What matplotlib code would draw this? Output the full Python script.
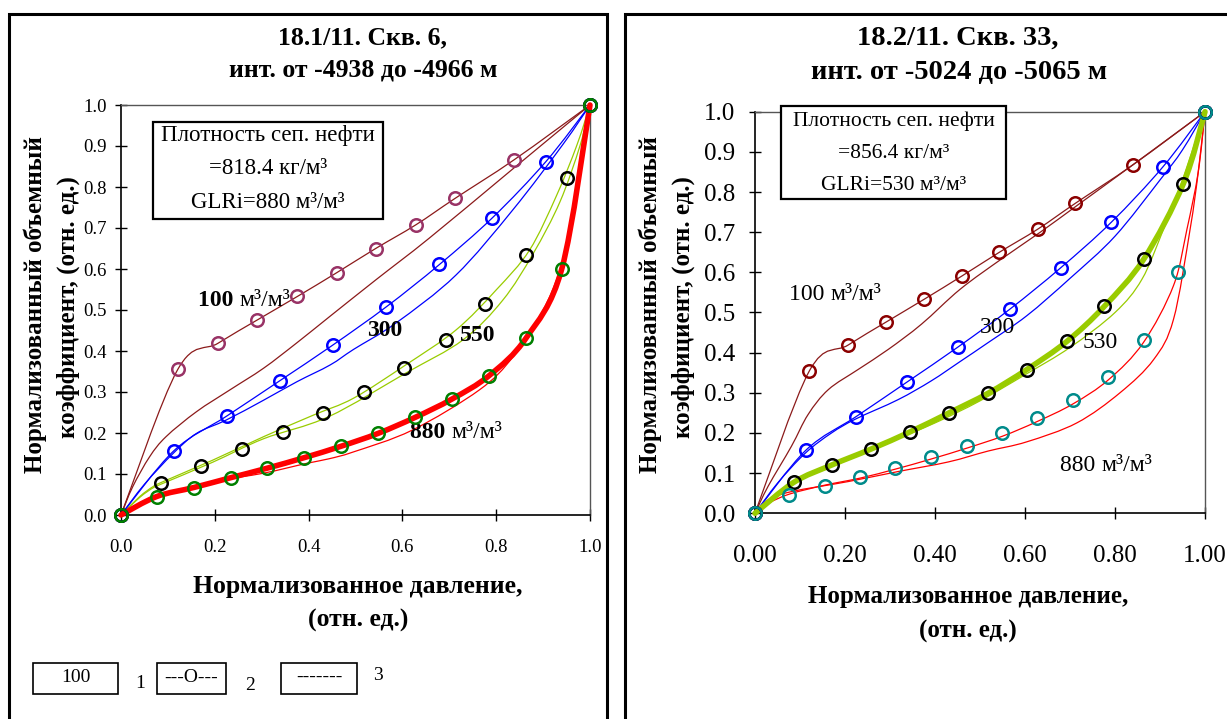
import numpy as np
import matplotlib
matplotlib.use('Agg')
import matplotlib.pyplot as plt
from matplotlib.patches import Rectangle, PathPatch
from matplotlib.path import Path

W, H = 1227, 719
DPI = 100
matplotlib.rcParams.update({
    'font.family': ['Liberation Serif', 'DejaVu Serif'],
    'figure.facecolor': 'white',
    'axes.facecolor': 'white',
})

# experimental points (same normalised grid in both wells)
x_exp_100 = [0, 0.121, 0.207, 0.291, 0.376, 0.46, 0.543, 0.629, 0.712, 0.839, 1.0]
y_exp_100 = [0, 0.355, 0.419, 0.476, 0.533, 0.591, 0.650, 0.708, 0.772, 0.867, 1.0]
x_exp_300 = [0, 0.113, 0.225, 0.338, 0.451, 0.566, 0.679, 0.792, 0.906, 1.0]
y_exp_300 = [0, 0.157, 0.241, 0.327, 0.414, 0.508, 0.611, 0.725, 0.862, 1.0]
x_exp_550 = [0, 0.086, 0.170, 0.258, 0.345, 0.431, 0.518, 0.604, 0.693, 0.776, 0.864, 0.952, 1.0]
y_exp_550 = [0, 0.077, 0.120, 0.160, 0.203, 0.250, 0.299, 0.358, 0.428, 0.515, 0.633, 0.821, 1.0]
x_exp_880 = [0, 0.076, 0.155, 0.234, 0.311, 0.391, 0.470, 0.548, 0.627, 0.706, 0.785, 0.864, 0.940, 1.0]
y_exp_880 = [0, 0.045, 0.067, 0.091, 0.114, 0.140, 0.168, 0.199, 0.238, 0.283, 0.340, 0.432, 0.601, 1.0]

# well 6: calculated curves
w6_x_100 = [0, 0.025, 0.061, 0.096, 0.161, 0.232, 0.304, 0.375, 0.446, 0.545, 0.657, 0.829, 1.0]
w6_y_100 = [0, 0.069, 0.142, 0.191, 0.252, 0.305, 0.358, 0.420, 0.485, 0.575, 0.675, 0.838, 1.0]
w6_x_300 = [0, 0.05, 0.111, 0.161, 0.225, 0.304, 0.375, 0.446, 0.496, 0.586, 0.714, 0.836, 0.943, 1.0]
w6_y_300 = [0, 0.075, 0.150, 0.199, 0.232, 0.280, 0.325, 0.366, 0.404, 0.468, 0.585, 0.745, 0.905, 1.0]
w6_x_550a = [0, 0.04, 0.068, 0.089, 0.196, 0.304, 0.411, 0.496, 0.607, 0.714, 0.8, 0.871, 0.929, 0.972, 1.0]
w6_y_550a = [0, 0.045, 0.069, 0.081, 0.134, 0.191, 0.244, 0.285, 0.366, 0.451, 0.549, 0.646, 0.780, 0.902, 1.0]
w6_x_550b = [0, 0.04, 0.068, 0.089, 0.196, 0.304, 0.443, 0.607, 0.729, 0.814, 0.879, 0.936, 0.979, 1.0]
w6_y_550b = [0, 0.043, 0.066, 0.077, 0.129, 0.186, 0.240, 0.346, 0.427, 0.524, 0.638, 0.764, 0.902, 1.0]
w6_x_880 = [0, 0.076, 0.196, 0.304, 0.396, 0.443, 0.496, 0.621, 0.764, 0.836, 0.9, 0.936, 0.957, 0.98, 1.0]
w6_y_880 = [0, 0.043, 0.081, 0.102, 0.126, 0.137, 0.154, 0.207, 0.305, 0.386, 0.500, 0.598, 0.695, 0.85, 1.0]

# well 33: calculated curves
w33_x_100 = [0, 0.029, 0.081, 0.118, 0.163, 0.229, 0.296, 0.370, 0.456, 0.55, 0.634, 0.72, 0.84, 1.0]
w33_y_100 = [0, 0.067, 0.167, 0.246, 0.308, 0.358, 0.408, 0.471, 0.558, 0.635, 0.700, 0.770, 0.868, 1.0]
w33_x_300 = [0, 0.05, 0.112, 0.170, 0.224, 0.318, 0.392, 0.456, 0.518, 0.604, 0.70, 0.80, 0.90, 0.95, 1.0]
w33_y_300 = [0, 0.075, 0.150, 0.200, 0.235, 0.283, 0.330, 0.378, 0.425, 0.492, 0.585, 0.690, 0.830, 0.905, 1.0]
w33_x_530 = [0, 0.05, 0.1, 0.2, 0.3, 0.4, 0.5, 0.6, 0.7, 0.8, 0.86, 0.908, 0.95, 1.0]
w33_y_530 = [0, 0.05, 0.085, 0.13, 0.178, 0.225, 0.28, 0.345, 0.413, 0.5, 0.583, 0.708, 0.83, 1.0]
w33_x_880a = [0, 0.03, 0.077, 0.155, 0.235, 0.312, 0.391, 0.47, 0.55, 0.626, 0.706, 0.786, 0.863, 0.93, 0.96, 0.985, 1.0]
w33_y_880a = [0, 0.025, 0.048, 0.07, 0.088, 0.11, 0.135, 0.162, 0.192, 0.228, 0.272, 0.333, 0.425, 0.567, 0.708, 0.85, 1.0]
w33_x_880b = [0, 0.029, 0.081, 0.207, 0.318, 0.43, 0.518, 0.604, 0.715, 0.811, 0.886, 0.930, 0.967, 0.985, 1.0]
w33_y_880b = [0, 0.033, 0.054, 0.079, 0.104, 0.128, 0.155, 0.178, 0.225, 0.300, 0.383, 0.483, 0.708, 0.85, 1.0]

MAROON = '#8B1A1A'
BLUE = '#0000FF'
YGREEN = '#99CC00'
RED = '#FF0000'

fig = plt.figure(figsize=(W / DPI, H / DPI), dpi=DPI)


def fx(x):
    return x / W


def fy(y):
    return 1 - y / H


# panel frames
for x0, x1 in [(9, 607), (625, 1240)]:
    fig.patches.append(Rectangle((fx(x0), fy(730)), fx(x1 - x0), (730 - 14) / H,
                                 transform=fig.transFigure, fill=False,
                                 edgecolor='black', linewidth=2.2))


def setup_axes(ax, xfmt, fs, xpad, ypad):
    ax.set_xlim(0, 1)
    ax.set_ylim(0, 1)
    ax.set_xticks(np.arange(0, 1.01, 0.2))
    ax.set_yticks(np.arange(0, 1.01, 0.1))
    ax.set_xticklabels([xfmt.format(v) for v in np.arange(0, 1.01, 0.2)])
    ax.set_yticklabels(['{:.1f}'.format(v) for v in np.arange(0, 1.01, 0.1)])
    ax.tick_params(axis='both', direction='inout', length=9, width=1, labelsize=fs)
    ax.tick_params(axis='x', pad=xpad)
    ax.tick_params(axis='y', pad=ypad)
    for s in ['left', 'bottom']:
        ax.spines[s].set_linewidth(1.2)
    for s in ['top', 'right']:
        ax.spines[s].set_color('#555555')
        ax.spines[s].set_linewidth(1)


def smooth_path(x, y):
    # spreadsheet-style smoothed line: cubic Bezier segments through every point
    p = np.column_stack([x, y]).astype(float)
    n = len(p)
    verts, codes = [p[0]], [Path.MOVETO]
    for i in range(n - 1):
        p0 = p[i - 1] if i > 0 else p[i]
        p3 = p[i + 2] if i + 2 < n else p[i + 1]
        verts += [p[i] + (p[i + 1] - p0) / 6, p[i + 1] - (p3 - p[i]) / 6, p[i + 1]]
        codes += [Path.CURVE4] * 3
    return Path(verts, codes)


def curve(ax, x, y, color, lw=0.9):
    ax.add_patch(PathPatch(smooth_path(x, y), fill=False, edgecolor=color, lw=lw,
                           capstyle='round', joinstyle='round', clip_on=False, zorder=3))


def markers(ax, x, y, mcolor):
    ax.plot(x, y, 'o', ms=9, mfc='none', mec=mcolor, mew=1.8, zorder=5, clip_on=False)


def unit_label(ax, x, y, num, fs, weight):
    t = ax.text(x, y, num + ' ', fontsize=fs, fontweight=weight, va='baseline')
    ax.annotate('м³/м³', xy=(1, 0), xycoords=t, fontsize=fs, va='bottom', ha='left')


# ---------- 18.1/11, well 6 ----------
axL = fig.add_axes([fx(121), fy(515), 469 / W, 410 / H])
setup_axes(axL, '{:.1f}', 13.5, 13, 6)

curve(axL, w6_x_100, w6_y_100, MAROON)
curve(axL, w6_x_300, w6_y_300, BLUE)
curve(axL, w6_x_550a, w6_y_550a, YGREEN)
curve(axL, w6_x_550b, w6_y_550b, YGREEN)
curve(axL, w6_x_880, w6_y_880, RED)
curve(axL, x_exp_100, y_exp_100, MAROON)
curve(axL, x_exp_300, y_exp_300, BLUE)
curve(axL, x_exp_880, y_exp_880, RED, lw=4)
markers(axL, x_exp_100, y_exp_100, '#993366')
markers(axL, x_exp_300, y_exp_300, BLUE)
markers(axL, x_exp_550, y_exp_550, 'black')
markers(axL, x_exp_880, y_exp_880, '#008000')

unit_label(axL, 0.164, 0.51, '100', 17, 'bold')
axL.text(0.525, 0.436, '300', fontsize=17, fontweight='bold', va='baseline')
axL.text(0.723, 0.424, '550', fontsize=17, fontweight='bold', va='baseline')
unit_label(axL, 0.616, 0.187, '880', 17, 'bold')

fig.text(fx(362), fy(38), '18.1/11. Скв. 6,', fontsize=18.5, fontweight='bold',
         ha='center', va='center')
fig.text(fx(363), fy(70), 'инт. от -4938 до -4966 м', fontsize=18.5, fontweight='bold',
         ha='center', va='center')
fig.text(fx(35), fy(305), 'Нормализованный объемный', fontsize=18, fontweight='bold',
         ha='center', va='center', rotation=90)
fig.text(fx(68), fy(307), 'коэффициент, (отн. ед.)', fontsize=18, fontweight='bold',
         ha='center', va='center', rotation=90)
fig.text(fx(358), fy(586), 'Нормализованное давление,', fontsize=18.5, fontweight='bold',
         ha='center', va='center')
fig.text(fx(358), fy(620), '(отн. ед.)', fontsize=18.5, fontweight='bold',
         ha='center', va='center')

# legend boxes
legend_items = ['100', '---O---', '-------']
legend_nums = ['1', '2', '3']
for (bx0, bx1), txt in zip([(33, 118), (157, 226), (281, 357)], legend_items):
    fig.patches.append(Rectangle((fx(bx0), fy(694)), (bx1 - bx0) / W, 31 / H,
                                 transform=fig.transFigure, fill=False,
                                 edgecolor='black', linewidth=1.2))
    fig.text(fx((bx0 + bx1) / 2), fy(677), txt, fontsize=14, ha='center', va='center')
for nx, ny, n in zip([140, 250, 378], [684, 686, 676], legend_nums):
    fig.text(fx(nx), fy(ny), n, fontsize=14, ha='center', va='center')

# ---------- 18.2/11, well 33 ----------
axR = fig.add_axes([fx(755), fy(513.3), 450 / W, 401.6 / H])
setup_axes(axR, '{:.2f}', 18, 18, 10)

curve(axR, w33_x_100, w33_y_100, MAROON)
curve(axR, w33_x_300, w33_y_300, BLUE)
curve(axR, w33_x_530, w33_y_530, YGREEN)
curve(axR, w33_x_880a, w33_y_880a, RED)
curve(axR, w33_x_880b, w33_y_880b, RED)
curve(axR, x_exp_100, y_exp_100, MAROON)
curve(axR, x_exp_300, y_exp_300, BLUE)
curve(axR, x_exp_550, y_exp_550, YGREEN, lw=4)
markers(axR, x_exp_100, y_exp_100, '#8B0000')
markers(axR, x_exp_300, y_exp_300, BLUE)
markers(axR, x_exp_550, y_exp_550, 'black')
markers(axR, x_exp_880, y_exp_880, '#008B8B')

unit_label(axR, 0.076, 0.53, '100', 17, 'normal')
axR.text(0.5, 0.45, '300', fontsize=17, va='baseline')
axR.text(0.729, 0.412, '530', fontsize=17, va='baseline')
unit_label(axR, 0.678, 0.106, '880', 17, 'normal')

fig.text(fx(958), fy(38), '18.2/11. Скв. 33,', fontsize=20.5, fontweight='bold',
         ha='center', va='center')
fig.text(fx(959), fy(73), 'инт. от -5024 до -5065 м', fontsize=20.5, fontweight='bold',
         ha='center', va='center')
fig.text(fx(650), fy(305), 'Нормализованный объемный', fontsize=18, fontweight='bold',
         ha='center', va='center', rotation=90)
fig.text(fx(683), fy(307), 'коэффициент, (отн. ед.)', fontsize=18, fontweight='bold',
         ha='center', va='center', rotation=90)
fig.text(fx(968), fy(597), 'Нормализованное давление,', fontsize=18, fontweight='bold',
         ha='center', va='center')
fig.text(fx(968), fy(631), '(отн. ед.)', fontsize=18, fontweight='bold',
         ha='center', va='center')

# oil density / GLR info boxes
info_boxes = [
    ((153, 122, 383, 219), ['Плотность сеп. нефти', '=818.4 кг/м³', 'GLRi=880 м³/м³'], [136, 169, 203], 16.5),
    ((781, 106, 1006, 199), ['Плотность сеп. нефти', '=856.4 кг/м³', 'GLRi=530 м³/м³'], [121, 153, 186], 15.5),
]
for (bx0, by0, bx1, by1), lines, ys, fs in info_boxes:
    fig.patches.append(Rectangle((fx(bx0), fy(by1)), (bx1 - bx0) / W, (by1 - by0) / H,
                                 transform=fig.transFigure, facecolor='white',
                                 edgecolor='black', linewidth=1.6, zorder=10))
    for ln, yy in zip(lines, ys):
        fig.text(fx((bx0 + bx1) / 2), fy(yy), ln, fontsize=fs, ha='center', va='center', zorder=11)

fig.savefig('out.png', dpi=DPI)
